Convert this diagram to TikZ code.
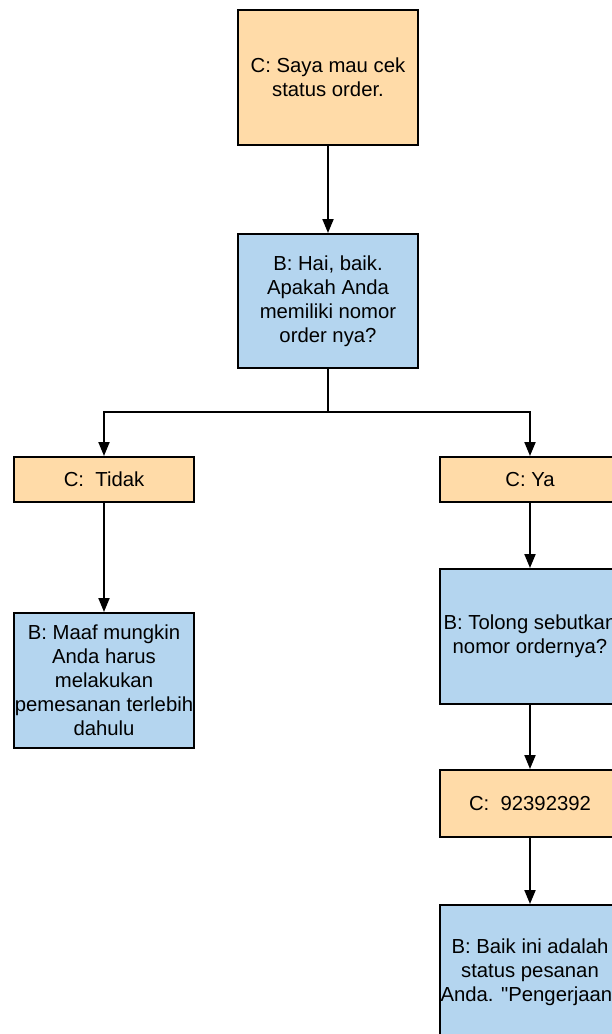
\documentclass[tikz,border=0pt]{standalone}
\usepackage{fontspec}
\setmainfont{Liberation Sans}[Ligatures=TeXOff]
\usetikzlibrary{arrows.meta}
\definecolor{custfill}{HTML}{FFDBA8}
\definecolor{botfill}{HTML}{B4D5EF}
\begin{document}
\begin{tikzpicture}[x=1pt,y=-1pt,
  box/.style={draw=black,line width=2pt,minimum width=180pt,align=center,
    inner sep=0pt,font=\fontsize{20.3}{24}\selectfont},
  cust/.style={box,fill=custfill},
  bot/.style={box,fill=botfill},
  link/.style={line width=2pt,-{Triangle[length=14pt,width=11pt]}}]
\useasboundingbox (0,0) rectangle (612,1034);
\clip (0,0) rectangle (612,1034);
% customer / bot dialogue boxes
\node[cust,minimum height=135pt] (start) at (328,77.5) {C: Saya mau cek\\status order.};
\node[bot,minimum height=134pt] (ask) at (328,301) {B: Hai, baik.\\Apakah Anda\\memiliki nomor\\order nya?};
\node[cust,minimum height=45pt] (no) at (104,479.5) {C:\ \ Tidak};
\node[cust,minimum height=45pt] (yes) at (530,479.5) {C: Ya};
\node[bot,minimum height=135pt] (sorry) at (104,680.5) {B: Maaf mungkin\\Anda harus\\melakukan\\pemesanan terlebih\\dahulu};
\node[bot,minimum height=135pt] (please) at (530,636.5) {B: Tolong sebutkan\\nomor ordernya?};
\node[cust,minimum height=67pt] (num) at (530,803.5) {C:\ \ 92392392};
\node[bot,minimum height=135pt] (status) at (530,972.5) {B: Baik ini adalah\\status pesanan\\Anda. "Pengerjaan"};
% connectors
\coordinate (split) at (328,412);
\draw[link] (start) -- (ask);
\draw[link] (ask.south) -- (split) -| (no.north);
\draw[link] (split) -| (yes.north);
\draw[link] (no) -- (sorry);
\draw[link] (yes) -- (please);
\draw[link] (please) -- (num);
\draw[link] (num) -- (status);
\end{tikzpicture}
\end{document}
